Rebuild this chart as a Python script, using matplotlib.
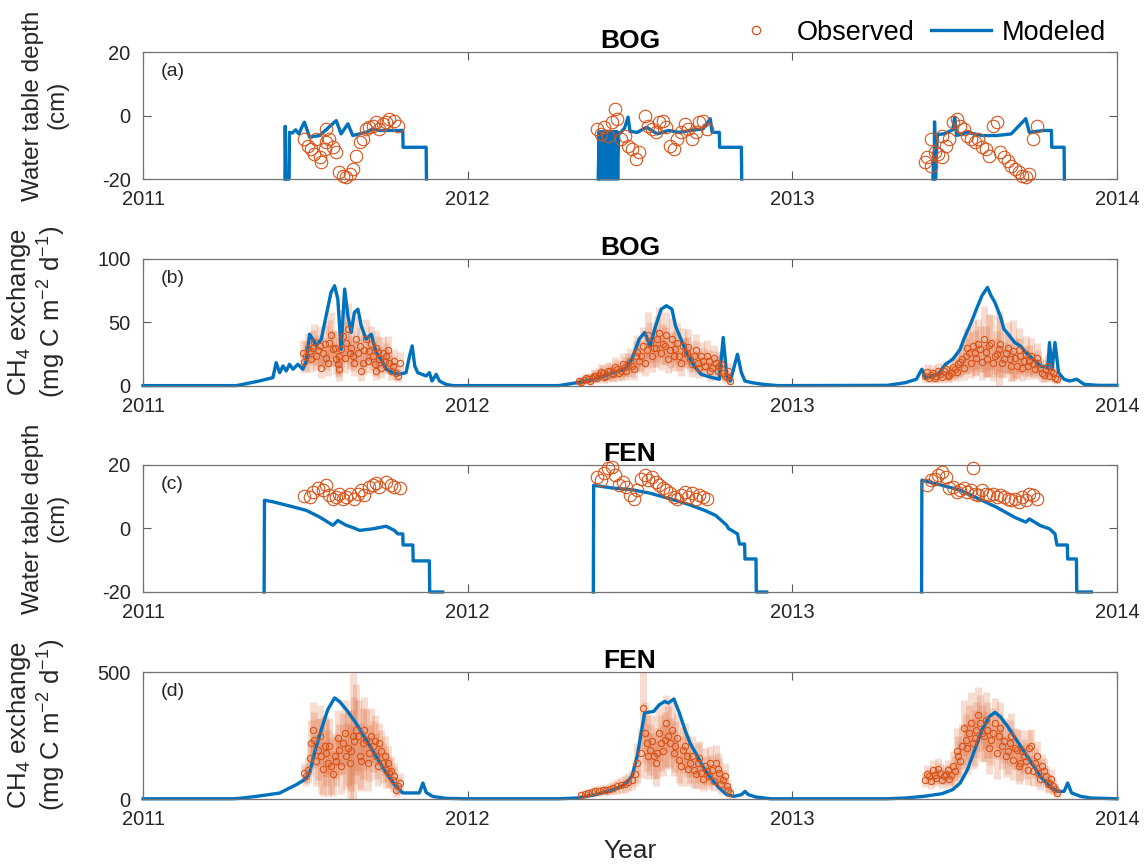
import matplotlib
matplotlib.use('Agg')
import matplotlib.pyplot as plt
from matplotlib.lines import Line2D

BLUE = '#0072BD'
ORANGE = '#D95319'

# ---------------- BOG water table depth (cm) ----------------
# modeled, one segment per growing season: (decimal year, cm)
bog_wtd_mod_2011 = [
    (2011.437, -20), (2011.438, -3.4), (2011.440, -20), (2011.450, -20),
    (2011.451, -5.3), (2011.460, -5.5), (2011.470, -4.5), (2011.480, -5.8),
    (2011.490, -3.5), (2011.497, -2.1), (2011.513, -6.8), (2011.544, -6.3),
    (2011.595, -1.6), (2011.610, -5.8), (2011.631, -2.6), (2011.646, -6.3),
    (2011.687, -5.3), (2011.708, -4.2), (2011.728, -4.7), (2011.769, -4.7),
    (2011.800, -4.7), (2011.801, -10), (2011.872, -10), (2011.873, -20),
]
bog_wtd_mod_2012 = [
    (2012.402, -20), (2012.405, -5), (2012.408, -20), (2012.411, -5),
    (2012.414, -20), (2012.417, -5), (2012.420, -20), (2012.423, -5),
    (2012.426, -20), (2012.429, -5), (2012.432, -20), (2012.435, -5),
    (2012.438, -20), (2012.441, -5), (2012.444, -20), (2012.447, -5),
    (2012.450, -20), (2012.453, -5), (2012.456, -20), (2012.459, -5),
    (2012.462, -20), (2012.465, -5.5), (2012.470, -5.5), (2012.483, -4.0),
    (2012.494, -0.5), (2012.500, -5.0), (2012.522, -5.3), (2012.551, -3.7),
    (2012.584, -5.8), (2012.618, -4.7), (2012.652, -5.3), (2012.685, -4.7),
    (2012.725, -4.2), (2012.747, -1.0), (2012.753, -5.3), (2012.775, -5.3),
    (2012.776, -10), (2012.843, -10), (2012.844, -20),
]
bog_wtd_mod_2013 = [
    (2013.433, -20), (2013.435, -13), (2013.437, -20), (2013.438, -2.0),
    (2013.441, -20), (2013.444, -12), (2013.447, -6.0), (2013.466, -5.8),
    (2013.494, -4.5), (2013.500, -0.5), (2013.506, -6.3), (2013.539, -5.3),
    (2013.584, -6.3), (2013.629, -6.3), (2013.674, -5.8), (2013.719, -1.0),
    (2013.730, -5.3), (2013.775, -4.7), (2013.798, -4.7), (2013.799, -10),
    (2013.837, -10), (2013.838, -20),
]
bog_wtd_obs = [
    (2011.497, -7.4), (2011.508, -9.5), (2011.518, -10.5), (2011.528, -12.1),
    (2011.533, -7.4), (2011.544, -13.2), (2011.549, -14.7), (2011.559, -10.5),
    (2011.564, -4.2), (2011.564, -8.4), (2011.574, -7.4), (2011.585, -10.0),
    (2011.595, -11.6), (2011.605, -17.9), (2011.615, -18.9), (2011.626, -19.5),
    (2011.636, -18.4), (2011.646, -16.8), (2011.656, -12.6), (2011.667, -8.4),
    (2011.677, -7.4), (2011.687, -4.2), (2011.697, -3.7), (2011.708, -3.2),
    (2011.718, -2.1), (2011.728, -4.2), (2011.738, -2.6), (2011.749, -2.1),
    (2011.759, -1.1), (2011.774, -1.6), (2011.785, -3.2),
    (2012.399, -4.2), (2012.410, -5.8), (2012.421, -3.7), (2012.433, -6.3),
    (2012.444, -2.1), (2012.455, 2.1), (2012.461, -1.1), (2012.472, -7.4),
    (2012.483, -6.3), (2012.494, -9.5), (2012.506, -10.5), (2012.517, -13.7),
    (2012.528, -11.6), (2012.545, 0.0), (2012.556, -3.2), (2012.567, -4.2),
    (2012.579, -5.3), (2012.590, -2.1), (2012.601, -1.6), (2012.612, -3.7),
    (2012.624, -9.5), (2012.635, -10.5), (2012.646, -7.4), (2012.657, -5.3),
    (2012.669, -2.6), (2012.680, -4.2), (2012.691, -7.4), (2012.702, -5.3),
    (2012.713, -2.1), (2012.725, -1.6), (2012.736, -4.2),
    (2013.410, -14.7), (2013.416, -13.2), (2013.427, -15.8), (2013.427, -7.4),
    (2013.438, -11.6), (2013.449, -12.1), (2013.461, -13.2), (2013.461, -6.3),
    (2013.472, -9.5), (2013.483, -7.4), (2013.494, -2.1), (2013.506, -1.1),
    (2013.517, -3.2), (2013.528, -4.2), (2013.539, -6.3), (2013.551, -7.4),
    (2013.562, -8.4), (2013.573, -7.4), (2013.584, -10.0), (2013.596, -10.5),
    (2013.607, -12.6), (2013.618, -3.2), (2013.629, -2.1), (2013.640, -11.6),
    (2013.652, -13.2), (2013.663, -14.2), (2013.674, -15.8), (2013.685, -16.8),
    (2013.697, -17.9), (2013.708, -18.9), (2013.719, -19.5), (2013.730, -18.4),
    (2013.742, -7.4), (2013.753, -3.2),
]

# ---------------- BOG CH4 exchange (mg C m-2 d-1) ----------------
bog_ch4_mod = [
    (2011.000, 0.3), (2011.287, 0.3), (2011.308, 1.3), (2011.359, 4.0),
    (2011.400, 6.6), (2011.410, 18.4), (2011.421, 10.5), (2011.431, 15.8),
    (2011.441, 11.8), (2011.451, 17.1), (2011.462, 13.2), (2011.477, 17.1),
    (2011.492, 13.2), (2011.503, 19.7), (2011.513, 40.8), (2011.523, 36.8),
    (2011.533, 31.6), (2011.549, 36.8), (2011.564, 55.3), (2011.579, 73.7),
    (2011.590, 78.9), (2011.600, 68.4), (2011.610, 28.9), (2011.621, 76.3),
    (2011.631, 55.3), (2011.641, 42.1), (2011.651, 57.9), (2011.662, 60.5),
    (2011.672, 47.4), (2011.687, 36.8), (2011.703, 40.8), (2011.718, 26.3),
    (2011.733, 21.1), (2011.749, 13.2), (2011.769, 10.5), (2011.790, 9.2),
    (2011.810, 10.5), (2011.821, 23.7), (2011.829, 31.6), (2011.837, 15.8),
    (2011.846, 10.5), (2011.872, 7.9), (2011.882, 10.5), (2011.890, 3.9),
    (2011.903, 9.2), (2011.913, 3.9), (2011.933, 1.3), (2011.954, 0.3),
    (2012.280, 0.3), (2012.337, 2.6), (2012.393, 5.3), (2012.449, 10.5),
    (2012.483, 13.2), (2012.506, 21.1), (2012.528, 36.8), (2012.545, 42.1),
    (2012.562, 31.6), (2012.579, 47.4), (2012.596, 60.5), (2012.612, 63.2),
    (2012.629, 60.5), (2012.640, 47.4), (2012.657, 36.8), (2012.674, 26.3),
    (2012.697, 15.8), (2012.719, 9.2), (2012.753, 6.6), (2012.775, 5.3),
    (2012.787, 38.2), (2012.798, 7.9), (2012.809, 3.9), (2012.831, 25.0),
    (2012.843, 10.5), (2012.854, 3.9), (2012.876, 2.6), (2012.910, 1.3),
    (2012.955, 0.3), (2013.292, 0.5), (2013.348, 2.6), (2013.382, 5.3),
    (2013.399, 13.2), (2013.410, 6.6), (2013.449, 9.2), (2013.472, 17.1),
    (2013.494, 21.1), (2013.517, 28.9), (2013.528, 36.8), (2013.551, 50.0),
    (2013.567, 60.5), (2013.584, 71.1), (2013.601, 77.6), (2013.612, 71.1),
    (2013.624, 65.8), (2013.640, 55.3), (2013.652, 44.7), (2013.669, 39.5),
    (2013.685, 34.2), (2013.702, 31.6), (2013.719, 26.3), (2013.742, 21.1),
    (2013.764, 15.8), (2013.787, 14.5), (2013.792, 34.2), (2013.800, 13.2),
    (2013.809, 34.2), (2013.820, 10.5), (2013.837, 5.3), (2013.854, 3.9),
    (2013.876, 5.3), (2013.899, 1.3), (2013.944, 0.5), (2014.000, 0.5),
]
# observed: (decimal year, flux, error half-width)
bog_ch4_obs_2011 = [
    (2011.492, 26.3, 10), (2011.503, 23.7, 12), (2011.513, 27.6, 9),
    (2011.523, 30.3, 14), (2011.533, 23.7, 11), (2011.544, 31.6, 16),
    (2011.549, 14.5, 8), (2011.554, 26.3, 12), (2011.564, 22.4, 10),
    (2011.574, 34.2, 18), (2011.585, 28.9, 14), (2011.595, 21.1, 12),
    (2011.605, 23.7, 15), (2011.605, 13.2, 9), (2011.615, 39.5, 20),
    (2011.626, 34.2, 16), (2011.636, 26.3, 13), (2011.646, 23.7, 12),
    (2011.656, 36.8, 18), (2011.667, 31.6, 15), (2011.672, 11.8, 8),
    (2011.677, 18.4, 10), (2011.687, 36.8, 16), (2011.697, 27.6, 12),
    (2011.708, 23.7, 11), (2011.718, 30.3, 14), (2011.718, 11.8, 7),
    (2011.728, 21.1, 10), (2011.738, 26.3, 12), (2011.749, 23.7, 10),
    (2011.759, 18.4, 9), (2011.769, 15.8, 8), (2011.779, 10.5, 6),
    (2011.790, 18.4, 8),
    (2011.497, 19, 9), (2011.508, 30, 12), (2011.518, 21, 10),
    (2011.528, 35, 14), (2011.538, 28, 12), (2011.559, 33, 15),
    (2011.569, 18, 10), (2011.579, 40, 18), (2011.590, 30, 14),
    (2011.600, 17, 10), (2011.610, 29, 14), (2011.621, 22, 12),
    (2011.631, 45, 20), (2011.641, 30, 14), (2011.651, 18, 10),
    (2011.662, 26, 12), (2011.682, 28, 13), (2011.692, 20, 10),
    (2011.703, 33, 14), (2011.713, 17, 9), (2011.723, 27, 12),
    (2011.733, 14, 8), (2011.744, 20, 10), (2011.754, 28, 11),
    (2011.764, 12, 7), (2011.774, 20, 9), (2011.785, 8, 5),
]
bog_ch4_obs_2012 = [
    (2012.344, 4.0, 3), (2012.359, 5.0, 3), (2012.371, 5.3, 4),
    (2012.383, 6.5, 4), (2012.393, 7.9, 5), (2012.405, 9.0, 5),
    (2012.416, 10.5, 6), (2012.427, 8.0, 5), (2012.438, 11.8, 6),
    (2012.449, 9.5, 6), (2012.461, 13.2, 7), (2012.472, 12.0, 7),
    (2012.483, 15.0, 8), (2012.494, 17.1, 9), (2012.506, 16.0, 9),
    (2012.517, 23.7, 12), (2012.528, 20.0, 10), (2012.539, 31.6, 15),
    (2012.551, 28.0, 14), (2012.562, 34.2, 16), (2012.573, 30.0, 15),
    (2012.584, 36.8, 18), (2012.596, 26.3, 14), (2012.607, 31.6, 15),
    (2012.618, 21.1, 11), (2012.629, 36.8, 17), (2012.640, 28.9, 14),
    (2012.652, 23.7, 12), (2012.663, 31.6, 14), (2012.674, 26.3, 12),
    (2012.685, 21.1, 10), (2012.697, 23.7, 12), (2012.708, 18.4, 9),
    (2012.719, 23.7, 11), (2012.730, 15.8, 8), (2012.742, 19.7, 9),
    (2012.753, 14.5, 8), (2012.764, 18.4, 9), (2012.775, 15.8, 8),
    (2012.787, 10.5, 6), (2012.798, 7.0, 5), (2012.809, 4.0, 3),
    (2012.350, 3, 3), (2012.365, 6, 4), (2012.377, 4, 3),
    (2012.388, 8, 5), (2012.399, 6, 4), (2012.410, 11, 6),
    (2012.421, 7, 5), (2012.433, 12, 7), (2012.444, 10, 6),
    (2012.455, 15, 8), (2012.466, 10, 6), (2012.478, 17, 9),
    (2012.489, 12, 7), (2012.500, 20, 10), (2012.511, 13, 8),
    (2012.522, 27, 13), (2012.534, 24, 12), (2012.545, 18, 10),
    (2012.556, 40, 18), (2012.568, 24, 13), (2012.579, 30, 15),
    (2012.590, 42, 20), (2012.601, 33, 16), (2012.612, 40, 18),
    (2012.624, 28, 14), (2012.635, 24, 12), (2012.646, 34, 16),
    (2012.657, 18, 10), (2012.669, 26, 12), (2012.680, 31, 14),
    (2012.691, 17, 10), (2012.702, 28, 13), (2012.713, 14, 8),
    (2012.725, 20, 10), (2012.736, 24, 12), (2012.747, 12, 8),
    (2012.758, 22, 10), (2012.770, 12, 7), (2012.781, 17, 9),
    (2012.792, 8, 5), (2012.803, 12, 6),
]
bog_ch4_obs_2013 = [
    (2013.410, 8.0, 5), (2013.421, 6.0, 4), (2013.433, 10.5, 6),
    (2013.444, 7.9, 5), (2013.455, 9.2, 5), (2013.466, 11.8, 6),
    (2013.478, 7.9, 5), (2013.489, 10.5, 6), (2013.500, 13.2, 8),
    (2013.511, 17.1, 10), (2013.522, 21.1, 12), (2013.534, 23.7, 14),
    (2013.545, 26.3, 16), (2013.556, 31.6, 20), (2013.567, 22.4, 14),
    (2013.579, 28.9, 18), (2013.590, 36.8, 26), (2013.601, 21.1, 14),
    (2013.612, 34.2, 22), (2013.624, 23.7, 14), (2013.635, 28.9, 30),
    (2013.646, 18.4, 12), (2013.657, 26.3, 16), (2013.669, 21.1, 12),
    (2013.680, 27.6, 24), (2013.691, 15.8, 10), (2013.702, 23.7, 14),
    (2013.713, 19.7, 12), (2013.725, 15.8, 10), (2013.736, 23.7, 14),
    (2013.747, 13.2, 8), (2013.758, 18.4, 10), (2013.770, 10.5, 7),
    (2013.781, 13.2, 8), (2013.792, 7.9, 5), (2013.803, 10.5, 6),
    (2013.815, 5.3, 4),
    (2013.415, 11, 6), (2013.427, 9, 5), (2013.438, 6, 4),
    (2013.449, 12, 6), (2013.461, 7, 5), (2013.472, 13, 7),
    (2013.483, 9, 6), (2013.494, 15, 8), (2013.506, 11, 7),
    (2013.517, 19, 11), (2013.528, 14, 9), (2013.539, 30, 16),
    (2013.551, 18, 12), (2013.562, 26, 18), (2013.573, 33, 20),
    (2013.584, 19, 14), (2013.596, 27, 20), (2013.607, 32, 25),
    (2013.618, 18, 14), (2013.629, 25, 18), (2013.640, 33, 22),
    (2013.652, 21, 14), (2013.663, 30, 20), (2013.674, 16, 12),
    (2013.685, 22, 16), (2013.697, 28, 18), (2013.708, 14, 10),
    (2013.719, 25, 14), (2013.730, 20, 12), (2013.742, 17, 10),
    (2013.753, 22, 12), (2013.764, 14, 8), (2013.775, 9, 6),
    (2013.787, 16, 9), (2013.798, 12, 7), (2013.809, 6, 4),
]

# ---------------- FEN water table depth (cm) ----------------
fen_wtd_mod_2011 = [
    (2011.373, -20), (2011.374, 8.9), (2011.400, 8.4), (2011.451, 7.1),
    (2011.503, 5.7), (2011.544, 3.6), (2011.585, 1.0), (2011.600, 2.5),
    (2011.626, 1.0), (2011.646, 0.3), (2011.667, -0.6), (2011.708, -0.1),
    (2011.749, 0.7), (2011.774, -0.6), (2011.785, -1.7), (2011.800, -1.7),
    (2011.801, -5.2), (2011.831, -5.2), (2011.832, -10.2), (2011.882, -10.2),
    (2011.883, -20), (2011.923, -20),
]
fen_wtd_mod_2012 = [
    (2012.387, -20), (2012.388, 13.6), (2012.449, 12.7), (2012.506, 12.2),
    (2012.562, 11.1), (2012.618, 9.5), (2012.674, 7.8), (2012.730, 5.7),
    (2012.764, 4.1), (2012.798, 1.0), (2012.803, 0.0), (2012.831, -1.7),
    (2012.837, -4.9), (2012.853, -4.9), (2012.854, -9.6), (2012.888, -9.6),
    (2012.889, -20), (2012.921, -20),
]
fen_wtd_mod_2013 = [
    (2013.398, -20), (2013.399, 15.2), (2013.461, 13.6), (2013.517, 12.1),
    (2013.573, 9.4), (2013.629, 6.7), (2013.685, 3.5), (2013.719, 2.0),
    (2013.730, 3.0), (2013.764, 0.9), (2013.792, -0.1), (2013.809, -1.7),
    (2013.815, -5.2), (2013.847, -5.2), (2013.848, -9.6), (2013.875, -9.6),
    (2013.876, -20), (2013.921, -20),
]
fen_wtd_obs = [
    (2011.497, 10.3), (2011.513, 10.0), (2011.523, 11.5), (2011.538, 12.6),
    (2011.554, 12.1), (2011.564, 13.6), (2011.574, 10.5), (2011.585, 9.4),
    (2011.595, 9.9), (2011.605, 11.0), (2011.615, 9.4), (2011.626, 9.9),
    (2011.636, 11.0), (2011.651, 9.4), (2011.662, 11.0), (2011.672, 12.1),
    (2011.682, 10.5), (2011.697, 13.1), (2011.708, 13.6), (2011.718, 14.2),
    (2011.728, 13.1), (2011.749, 14.7), (2011.764, 13.6), (2011.774, 13.1),
    (2011.790, 12.6),
    (2012.399, 16.3), (2012.410, 15.2), (2012.421, 17.4), (2012.433, 19.0),
    (2012.444, 19.5), (2012.455, 16.8), (2012.466, 13.7), (2012.478, 14.7),
    (2012.489, 13.1), (2012.500, 10.5), (2012.511, 9.4), (2012.522, 12.1),
    (2012.534, 15.7), (2012.545, 16.8), (2012.556, 15.2), (2012.567, 16.3),
    (2012.579, 14.7), (2012.590, 13.7), (2012.601, 12.6), (2012.612, 12.1),
    (2012.624, 11.1), (2012.635, 10.0), (2012.646, 9.4), (2012.657, 10.5),
    (2012.669, 11.5), (2012.680, 10.0), (2012.691, 11.1), (2012.702, 9.4),
    (2012.713, 10.5), (2012.725, 10.0), (2012.736, 9.4),
    (2013.416, 13.7), (2013.427, 15.2), (2013.438, 15.7), (2013.449, 16.8),
    (2013.461, 17.9), (2013.472, 16.3), (2013.483, 12.6), (2013.494, 13.1),
    (2013.506, 11.5), (2013.517, 12.1), (2013.528, 12.6), (2013.539, 11.5),
    (2013.551, 12.1), (2013.556, 19.0), (2013.562, 11.0), (2013.573, 10.5),
    (2013.584, 12.1), (2013.596, 11.0), (2013.607, 10.5), (2013.618, 11.0),
    (2013.629, 9.9), (2013.640, 10.5), (2013.652, 9.9), (2013.663, 9.4),
    (2013.674, 8.9), (2013.685, 9.4), (2013.697, 8.4), (2013.708, 9.9),
    (2013.719, 8.9), (2013.730, 11.0), (2013.742, 10.5), (2013.753, 9.4),
]

# ---------------- FEN CH4 exchange (mg C m-2 d-1) ----------------
fen_ch4_mod = [
    (2011.000, 1), (2011.277, 1), (2011.297, 2.6), (2011.349, 10.5),
    (2011.400, 19.7), (2011.421, 23.6), (2011.441, 36.7), (2011.472, 56.4),
    (2011.497, 76.1), (2011.513, 102), (2011.528, 181), (2011.549, 273),
    (2011.569, 352), (2011.590, 398), (2011.605, 384), (2011.626, 352),
    (2011.656, 299), (2011.687, 234), (2011.718, 168), (2011.749, 102),
    (2011.779, 50), (2011.800, 24), (2011.821, 24), (2011.851, 24),
    (2011.862, 63), (2011.872, 26), (2011.892, 10.5), (2011.933, 2.6),
    (2011.995, 1), (2012.281, 1), (2012.337, 3.9), (2012.393, 17),
    (2012.449, 37), (2012.483, 56), (2012.506, 89), (2012.522, 168),
    (2012.545, 339), (2012.573, 345), (2012.590, 371), (2012.607, 384),
    (2012.618, 378), (2012.635, 394), (2012.652, 339), (2012.669, 273),
    (2012.685, 220), (2012.708, 168), (2012.730, 115), (2012.753, 76),
    (2012.775, 43), (2012.798, 17), (2012.820, 10.5), (2012.843, 17),
    (2012.854, 30), (2012.865, 17), (2012.888, 7.9), (2012.933, 1),
    (2013.292, 1), (2013.348, 3.9), (2013.404, 10.5), (2013.461, 21),
    (2013.494, 37), (2013.517, 63), (2013.539, 115), (2013.562, 194),
    (2013.584, 273), (2013.607, 325), (2013.624, 341), (2013.640, 325),
    (2013.663, 286), (2013.697, 220), (2013.730, 155), (2013.764, 89),
    (2013.798, 43), (2013.820, 30), (2013.837, 30), (2013.848, 63),
    (2013.860, 24), (2013.888, 10.5), (2013.921, 3.9), (2014.000, 1),
]
fen_ch4_obs_2011 = [
    (2011.497, 102, 40), (2011.508, 115, 50), (2011.518, 220, 90),
    (2011.528, 234, 110), (2011.538, 194, 120), (2011.549, 168, 150),
    (2011.559, 207, 120), (2011.569, 142, 130), (2011.579, 129, 110),
    (2011.590, 168, 90), (2011.605, 194, 100), (2011.615, 220, 120),
    (2011.626, 168, 130), (2011.636, 142, 150), (2011.646, 247, 250),
    (2011.656, 273, 180), (2011.667, 168, 130), (2011.677, 220, 140),
    (2011.687, 234, 120), (2011.697, 181, 110), (2011.708, 207, 100),
    (2011.718, 168, 90), (2011.728, 220, 80), (2011.738, 142, 80),
    (2011.749, 115, 70), (2011.759, 102, 60), (2011.769, 76, 50),
    (2011.779, 37, 30), (2011.790, 63, 40),
    (2011.503, 90, 40), (2011.513, 160, 70), (2011.523, 270, 110),
    (2011.533, 150, 100), (2011.544, 250, 120), (2011.554, 120, 110),
    (2011.564, 180, 130), (2011.574, 210, 110), (2011.585, 100, 90),
    (2011.595, 150, 100), (2011.600, 240, 110), (2011.610, 130, 110),
    (2011.621, 260, 130), (2011.631, 200, 150), (2011.641, 190, 160),
    (2011.651, 230, 170), (2011.662, 250, 140), (2011.672, 150, 120),
    (2011.682, 270, 130), (2011.692, 140, 110), (2011.703, 250, 110),
    (2011.713, 230, 100), (2011.723, 130, 80), (2011.733, 190, 80),
    (2011.744, 170, 80), (2011.754, 140, 70), (2011.764, 110, 60),
    (2011.774, 90, 50), (2011.785, 50, 35),
]
fen_ch4_obs_2012 = [
    (2012.348, 17, 15), (2012.371, 24, 15), (2012.393, 30, 20),
    (2012.416, 34, 20), (2012.438, 39, 25), (2012.461, 50, 30),
    (2012.483, 60, 35), (2012.506, 76, 40), (2012.522, 142, 80),
    (2012.534, 181, 100), (2012.539, 358, 160), (2012.551, 220, 110),
    (2012.562, 194, 100), (2012.573, 168, 90), (2012.584, 181, 100),
    (2012.596, 220, 110), (2012.607, 234, 110), (2012.618, 247, 120),
    (2012.629, 273, 110), (2012.640, 207, 100), (2012.652, 155, 90),
    (2012.663, 194, 90), (2012.674, 168, 80), (2012.685, 142, 80),
    (2012.697, 115, 70), (2012.708, 142, 80), (2012.719, 102, 60),
    (2012.730, 129, 70), (2012.742, 89, 50), (2012.753, 115, 60),
    (2012.764, 142, 70), (2012.775, 102, 60), (2012.787, 76, 40),
    (2012.798, 50, 30), (2012.809, 24, 20),
    (2012.360, 20, 15), (2012.382, 27, 15), (2012.405, 32, 20),
    (2012.427, 36, 20), (2012.449, 45, 25), (2012.472, 55, 30),
    (2012.494, 68, 35), (2012.514, 100, 50), (2012.545, 260, 120),
    (2012.556, 170, 90), (2012.568, 230, 100), (2012.579, 140, 90),
    (2012.590, 260, 110), (2012.601, 190, 100), (2012.612, 300, 110),
    (2012.624, 220, 100), (2012.635, 180, 90), (2012.646, 240, 100),
    (2012.657, 130, 80), (2012.669, 210, 90), (2012.680, 120, 70),
    (2012.691, 170, 80), (2012.702, 100, 60), (2012.713, 160, 70),
    (2012.725, 80, 50), (2012.736, 110, 60), (2012.747, 140, 70),
    (2012.758, 70, 40), (2012.770, 120, 60), (2012.781, 60, 40),
    (2012.792, 90, 50), (2012.803, 35, 25),
]
fen_ch4_obs_2013 = [
    (2013.410, 76, 30), (2013.421, 89, 30), (2013.433, 115, 40),
    (2013.444, 83, 30), (2013.455, 102, 40), (2013.466, 89, 35),
    (2013.478, 115, 40), (2013.489, 96, 40), (2013.500, 109, 60),
    (2013.511, 168, 80), (2013.522, 207, 90), (2013.534, 234, 100),
    (2013.545, 260, 110), (2013.556, 220, 100), (2013.567, 273, 110),
    (2013.579, 299, 110), (2013.590, 247, 100), (2013.601, 273, 110),
    (2013.612, 234, 100), (2013.624, 299, 100), (2013.635, 247, 90),
    (2013.646, 207, 90), (2013.657, 168, 80), (2013.669, 220, 90),
    (2013.680, 155, 80), (2013.691, 194, 80), (2013.702, 142, 70),
    (2013.713, 168, 70), (2013.725, 115, 60), (2013.736, 207, 70),
    (2013.747, 142, 60), (2013.758, 102, 50), (2013.770, 129, 50),
    (2013.781, 89, 40), (2013.792, 63, 35), (2013.803, 50, 30),
    (2013.815, 24, 20),
    (2013.415, 100, 35), (2013.427, 70, 30), (2013.438, 95, 35),
    (2013.449, 120, 40), (2013.461, 75, 30), (2013.472, 100, 35),
    (2013.483, 80, 35), (2013.494, 130, 60), (2013.506, 190, 90),
    (2013.517, 150, 80), (2013.528, 280, 110), (2013.539, 200, 100),
    (2013.551, 300, 120), (2013.562, 240, 110), (2013.573, 330, 110),
    (2013.584, 260, 110), (2013.596, 310, 110), (2013.607, 200, 100),
    (2013.618, 260, 100), (2013.629, 180, 100), (2013.640, 280, 100),
    (2013.652, 230, 90), (2013.663, 190, 90), (2013.674, 250, 90),
    (2013.685, 200, 80), (2013.697, 130, 70), (2013.708, 190, 80),
    (2013.719, 150, 70), (2013.730, 200, 70), (2013.742, 110, 60),
    (2013.753, 170, 60), (2013.764, 80, 45), (2013.775, 110, 50),
    (2013.787, 60, 35), (2013.798, 80, 40), (2013.809, 40, 25),
]

years = [2011, 2012, 2013, 2014]
wtd_label = 'Water table depth\n(cm)'
ch4_label = 'CH$_4$ exchange\n(mg C m$^{-2}$ d$^{-1}$)'

plt.rcParams['font.family'] = ['Liberation Sans', 'DejaVu Sans']
plt.rcParams['mathtext.fontset'] = 'custom'
plt.rcParams['mathtext.rm'] = 'Liberation Sans'
plt.rcParams['mathtext.it'] = 'Liberation Sans'
plt.rcParams['axes.unicode_minus'] = False


def style_axes(ax, ylim, yticks, ylabel, label_size, title, tag):
    ax.set_xlim(2011, 2014)
    ax.set_ylim(*ylim)
    ax.set_xticks(years)
    ax.set_xticklabels([str(y) for y in years])
    ax.set_yticks(yticks)
    ax.tick_params(direction='in', top=True, right=True, length=6,
                   width=0.8, color='0.35', labelsize=14.5,
                   labelcolor='#262626')
    ax.tick_params(axis='y', pad=9)
    ax.tick_params(axis='x', pad=8)
    for sp in ax.spines.values():
        sp.set_color('0.45')
        sp.set_linewidth(0.9)
    ax.set_ylabel(ylabel, fontsize=label_size, color='#262626',
                  linespacing=1.1)
    ax.yaxis.set_label_coords(-0.077, 0.58)
    ax.set_title(title, fontsize=19, fontweight='bold', pad=3)
    ax.text(0.018, 0.85, tag, transform=ax.transAxes, fontsize=14,
            va='center', color='#262626')


def draw_wtd(ax, segments, obs):
    for seg in segments:
        t, v = zip(*seg)
        ax.plot(t, v, color=BLUE, lw=2.4, clip_on=False, zorder=2)
    t, v = zip(*obs)
    ax.plot(t, v, ls='none', marker='o', ms=9, mfc='none', mec=ORANGE,
            mew=0.8, clip_on=False, zorder=3)


def draw_ch4(ax, model, obs_seasons):
    obs = [row for season in obs_seasons for row in season]
    t, v, e = zip(*obs)
    ax.errorbar(t, v, yerr=e, fmt='none', ecolor=ORANGE, elinewidth=5,
                alpha=0.2, zorder=1)
    tm, vm = zip(*model)
    ax.plot(tm, vm, color=BLUE, lw=2.4, clip_on=False, zorder=2)
    ax.plot(t, v, ls='none', marker='o', ms=4.5, mfc='none', mec=ORANGE,
            mew=0.8, clip_on=False, zorder=3)


fig = plt.figure(figsize=(11.48, 8.67), dpi=100)
left, width, height = 0.1246, 0.8484, 0.1465
bottoms = [0.7935, 0.5548, 0.3172, 0.0784]
axes = [fig.add_axes([left, b, width, height]) for b in bottoms]

draw_wtd(axes[0], [bog_wtd_mod_2011, bog_wtd_mod_2012, bog_wtd_mod_2013],
         bog_wtd_obs)
style_axes(axes[0], (-20, 20), [-20, 0, 20], wtd_label, 17.5, 'BOG', '(a)')

draw_ch4(axes[1], bog_ch4_mod,
         [bog_ch4_obs_2011, bog_ch4_obs_2012, bog_ch4_obs_2013])
style_axes(axes[1], (0, 100), [0, 50, 100], ch4_label, 18.5, 'BOG', '(b)')

draw_wtd(axes[2], [fen_wtd_mod_2011, fen_wtd_mod_2012, fen_wtd_mod_2013],
         fen_wtd_obs)
style_axes(axes[2], (-20, 20), [-20, 0, 20], wtd_label, 17.5, 'FEN', '(c)')

draw_ch4(axes[3], fen_ch4_mod,
         [fen_ch4_obs_2011, fen_ch4_obs_2012, fen_ch4_obs_2013])
style_axes(axes[3], (0, 500), [0, 500], ch4_label, 18.5, 'FEN', '(d)')
axes[3].set_xlabel('Year', fontsize=19, color='#262626', labelpad=7)

handles = [
    Line2D([], [], ls='none', marker='o', ms=6, mfc='none', mec=ORANGE, mew=0.9),
    Line2D([], [], color=BLUE, lw=2.4),
]
fig.legend(handles, ['Observed', 'Modeled'], ncol=2, frameon=False,
           loc='center', bbox_to_anchor=(0.798, 0.962), fontsize=19.5,
           handlelength=2.2, handletextpad=0.4, columnspacing=0.6)

fig.savefig('out.png', dpi=100)
